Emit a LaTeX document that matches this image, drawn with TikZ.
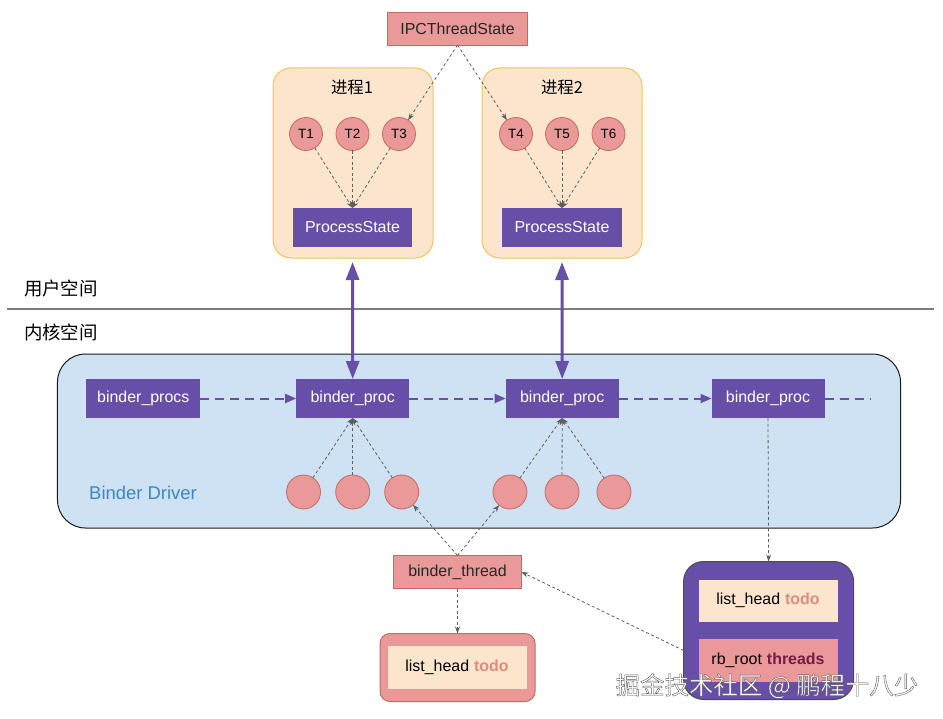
\documentclass[tikz,border=0pt]{standalone}
\usepackage{fontspec}
\setmainfont{Liberation Sans}
\newfontfamily\cjk{Noto Sans CJK SC}
\newfontfamily\cjkwm[FakeBold=1.6]{Noto Sans CJK SC}
\usetikzlibrary{arrows.meta}
\definecolor{salmon}{HTML}{EA9999}
\definecolor{sborder}{HTML}{C26A66}
\definecolor{peach}{HTML}{FCE5CD}
\definecolor{pborder}{HTML}{F1C45E}
\definecolor{purp}{HTML}{674EA7}
\definecolor{drvfill}{HTML}{CFE2F3}
\definecolor{gline}{HTML}{5E5E5E}
\definecolor{todoc}{HTML}{DE8C7C}
\definecolor{threadc}{HTML}{741B47}
\definecolor{drvtext}{HTML}{3D85C6}
\begin{document}
\begin{tikzpicture}[x=1bp,y=-1bp,
  every node/.style={inner sep=0pt, outer sep=0pt},
  txt/.style={font=\fontsize{16}{18}\selectfont},
  salmonbox/.style={txt, draw=sborder, fill=salmon, line width=0.8bp, text=black!85},
  purplebox/.style={txt, fill=purp, text=white},
  tcirc/.style={circle, draw=sborder, fill=salmon, line width=0.8bp, minimum size=33bp, font=\fontsize{13.5}{15}\selectfont},
  dcirc/.style={circle, draw=sborder, fill=salmon, line width=0.8bp, minimum size=34bp},
  procbox/.style={draw=pborder, fill=peach, line width=1bp, rounded corners=18bp, minimum width=160bp, minimum height=190bp},
  gdash/.style={draw=gline, line width=0.8bp, dash pattern=on 3bp off 2.5bp, -{Stealth[length=7bp,width=5bp]}},
  pdash/.style={draw=purp, line width=2bp, dash pattern=on 9bp off 6bp, -{Triangle[length=11bp,width=9bp]}},
  darrow/.style={draw=purp, line width=3bp, {Triangle[length=18bp,width=13bp]}-{Triangle[length=18bp,width=13bp]}},
  cjklabel/.style={font=\cjk\fontsize{16.5}{18}\selectfont},
  spacelabel/.style={font=\cjk\fontsize{18.5}{20}\selectfont, anchor=west},
  wm/.style={font=\cjkwm\fontsize{24.5}{26}\selectfont}
]
\useasboundingbox (0,0) rectangle (943,719);

% process boxes
\node[procbox] (p1) at (353,163) {};
\node[procbox] (p2) at (562,163) {};
\node[cjklabel] (p1l) at (352,87) {进程1};
\node[cjklabel] (p2l) at (562,87) {进程2};

\node[salmonbox, minimum width=140bp, minimum height=33bp] (ipc) at (457.5,28.5) {IPCThreadState};

\node[tcirc] (t1) at (306,134) {T1};
\node[tcirc] (t2) at (352.5,134) {T2};
\node[tcirc] (t3) at (399,134) {T3};
\node[tcirc] (t4) at (516,134) {T4};
\node[tcirc] (t5) at (562,134) {T5};
\node[tcirc] (t6) at (608.5,134) {T6};

\node[purplebox, minimum width=119bp, minimum height=39bp] (ps1) at (352.5,227.5) {ProcessState};
\node[purplebox, minimum width=120bp, minimum height=39bp] (ps2) at (562,227.5) {ProcessState};

\draw[gdash] (ipc.south) -- (t3);
\draw[gdash] (ipc.south) -- (t4);
\foreach \t in {t1,t2,t3}{\draw[gdash] (\t) -- (ps1.north);}
\foreach \t in {t4,t5,t6}{\draw[gdash] (\t) -- (ps2.north);}

% user / kernel space
\node[spacelabel] (us) at (24,288) {用户空间};
\node[spacelabel] (ks) at (24,332) {内核空间};
\coordinate (sepl) at (7,309);
\coordinate (sepr) at (934,309);
\draw[gline!80, line width=1.5bp] (sepl) -- (sepr);

% binder driver
\node[draw=black!90, fill=drvfill, line width=1bp, rounded corners=28bp, minimum width=843bp, minimum height=174bp] (drv) at (479,441) {};
\node[font=\fontsize{18.5}{20}\selectfont, text=drvtext] (drvl) at (143,493) {Binder Driver};

\node[purplebox, minimum width=114bp, minimum height=39bp] (bps) at (143.3,398.5) {binder\_procs};
\node[purplebox, minimum width=113bp, minimum height=39bp] (bp1) at (352.7,398.5) {binder\_proc};
\node[purplebox, minimum width=113bp, minimum height=39bp] (bp2) at (562.2,398.5) {binder\_proc};
\node[purplebox, minimum width=113bp, minimum height=39bp] (bp3) at (768,398.5) {binder\_proc};
\coordinate (bpend) at (870,398.5);

\draw[pdash] (bps) -- (bp1);
\draw[pdash] (bp1) -- (bp2);
\draw[pdash] (bp2) -- (bp3);
\draw[draw=purp, line width=2bp, dash pattern=on 9bp off 6bp] (bp3.east) -- (bpend);

\draw[darrow, shorten <=15bp] (ps1.south) -- (bp1.north);
\draw[darrow, shorten <=15bp] (ps2.south) -- (bp2.north);

\node[dcirc] (c1) at (303.5,492) {};
\node[dcirc] (c2) at (352.7,492) {};
\node[dcirc] (c3) at (401.7,492) {};
\node[dcirc] (c4) at (510,492) {};
\node[dcirc] (c5) at (562,492) {};
\node[dcirc] (c6) at (614,492) {};
\foreach \c in {c1,c2,c3}{\draw[gdash] (\c) -- (bp1.south);}
\foreach \c in {c4,c5,c6}{\draw[gdash] (\c) -- (bp2.south);}

% binder_thread
\node[salmonbox, minimum width=128bp, minimum height=33bp] (bt) at (457.5,572) {binder\_thread};
\draw[gdash] (bt.north) -- (c3);
\draw[gdash] (bt.north) -- (c4);

\node[draw=sborder, fill=salmon, line width=1bp, rounded corners=10bp, minimum width=155bp, minimum height=68bp] (lg) at (457.5,667.5) {};
\node[txt, fill=peach, minimum width=139bp, minimum height=43bp] (lg1) at (457,667.7) {list\_head\hspace{5bp}{\bfseries\color{todoc}todo}};
\draw[gdash] (bt.south) -- (lg.north);

% right group
\node[draw=black!70, fill=purp, line width=1bp, rounded corners=20bp, minimum width=170bp, minimum height=138bp] (rg) at (768.6,630.5) {};
\node[txt, fill=peach, minimum width=139bp, minimum height=42bp] (rg1) at (768,600.5) {list\_head\hspace{5bp}{\bfseries\color{todoc}todo}};
\node[txt, fill=salmon, minimum width=139bp, minimum height=43bp] (rg2) at (768,660) {rb\_root\hspace{5bp}{\bfseries\color{threadc}threads}};
\draw[gdash] (bp3.south) -- (rg.north);
\draw[gdash] ([yshift=-20bp]rg.west) -- (bt.east);

% watermark
\node[wm] (wm) at (767,686) {\color{white}\special{pdf:code 0.35 G}掘金技术社区 @ 鹏程十八少};
\end{tikzpicture}
\end{document}
